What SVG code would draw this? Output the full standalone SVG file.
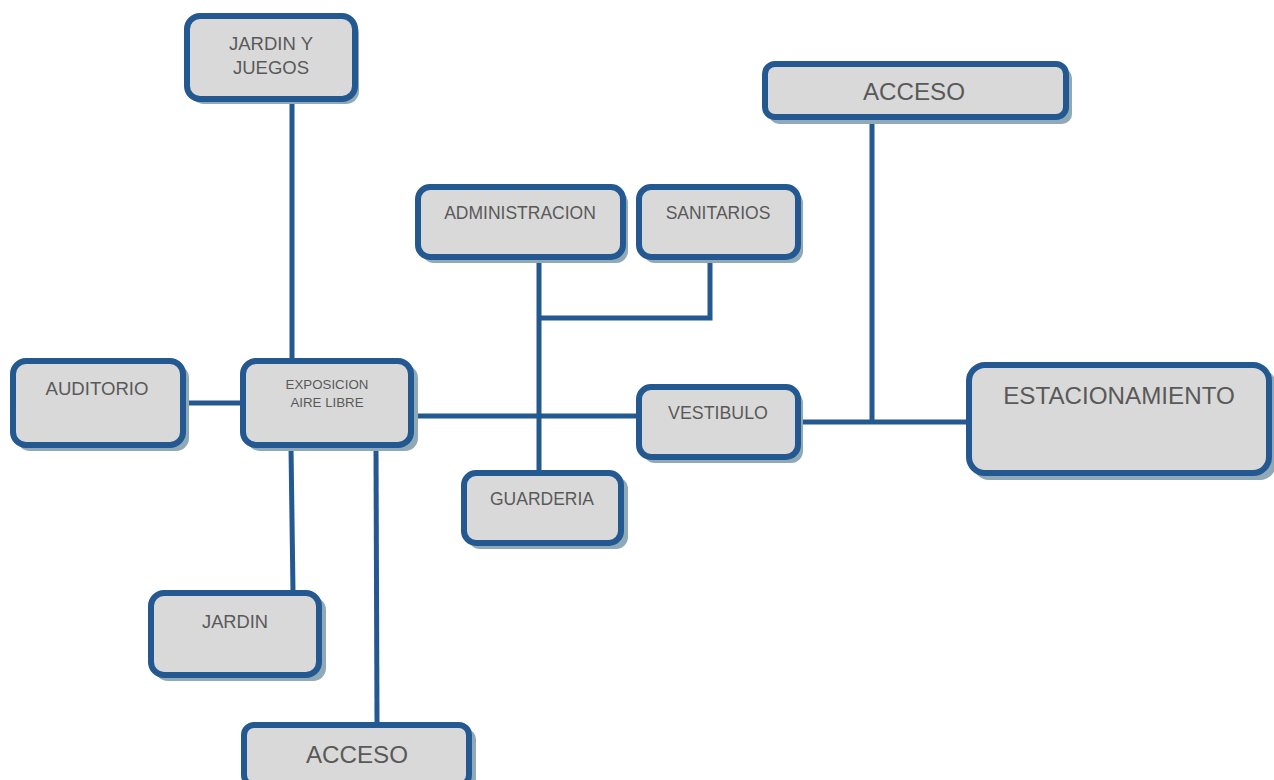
<svg xmlns="http://www.w3.org/2000/svg" width="1274" height="780" viewBox="0 0 1274 780">
<style>
.sh{fill:#8FA9B6;}
.bx{fill:#D9D9D9;stroke:#245890;stroke-width:6;}
.t{font-family:"Liberation Sans",Arial,sans-serif;fill:#595959;text-anchor:middle;}
.c{stroke:#245890;stroke-width:5;fill:none;}
</style>
<rect width="1274" height="780" fill="#ffffff"/>
<g id="connectors">
<line class="c" x1="292" y1="100" x2="292" y2="360"/>
<line class="c" x1="185" y1="403" x2="242" y2="403"/>
<line class="c" x1="413" y1="416" x2="638" y2="416"/>
<line class="c" x1="799" y1="422" x2="968" y2="422"/>
<line class="c" x1="872" y1="119" x2="872" y2="424"/>
<line class="c" x1="539" y1="259" x2="539" y2="472"/>
<polyline class="c" points="710,259 710,318 539,318"/>
<line class="c" x1="291" y1="447" x2="293" y2="592"/>
<line class="c" x1="376" y1="447" x2="377" y2="724"/>
</g>
<g id="jardin-juegos">
<rect class="sh" x="191" y="20" width="168" height="84" rx="13"/>
<rect class="bx" x="187" y="16" width="168" height="83" rx="13"/>
<text class="t" x="271" y="50" font-size="18.5">JARDIN Y</text>
<text class="t" x="271" y="74" font-size="18.5">JUEGOS</text>
</g>
<g id="administracion">
<rect class="sh" x="422" y="191" width="206" height="72" rx="12"/>
<rect class="bx" x="418" y="187" width="205" height="70" rx="12"/>
<text class="t" x="520" y="219" font-size="17.5">ADMINISTRACION</text>
</g>
<g id="sanitarios">
<rect class="sh" x="643" y="191" width="160" height="72" rx="12"/>
<rect class="bx" x="639" y="187" width="159" height="70" rx="12"/>
<text class="t" x="718" y="219" font-size="17.5">SANITARIOS</text>
</g>
<g id="acceso-top">
<rect class="sh" x="769" y="68" width="303" height="56" rx="10"/>
<rect class="bx" x="765" y="64" width="301" height="53" rx="10"/>
<text class="t" x="914" y="100" font-size="24.2">ACCESO</text>
</g>
<g id="auditorio">
<rect class="sh" x="17" y="365" width="172" height="86" rx="13"/>
<rect class="bx" x="13" y="361" width="170" height="84" rx="13"/>
<text class="t" x="97" y="395" font-size="18.6">AUDITORIO</text>
</g>
<g id="exposicion">
<rect class="sh" x="247" y="365" width="171" height="86" rx="13"/>
<rect class="bx" x="243" y="361" width="168" height="84" rx="13"/>
<text class="t" x="327" y="389" font-size="13.3">EXPOSICION</text>
<text class="t" x="327" y="407" font-size="13.3">AIRE LIBRE</text>
</g>
<g id="vestibulo">
<rect class="sh" x="643" y="391" width="160" height="72" rx="12"/>
<rect class="bx" x="639" y="387" width="159" height="70" rx="12"/>
<text class="t" x="718" y="419" font-size="17.8">VESTIBULO</text>
</g>
<g id="estacionamiento">
<rect class="sh" x="973" y="369" width="303" height="111" rx="16"/>
<rect class="bx" x="969" y="365" width="300" height="108" rx="16"/>
<text class="t" x="1119" y="404" font-size="24.2">ESTACIONAMIENTO</text>
</g>
<g id="guarderia">
<rect class="sh" x="468" y="477" width="160" height="72" rx="12"/>
<rect class="bx" x="464" y="473" width="157" height="70" rx="12"/>
<text class="t" x="542" y="505" font-size="17.5">GUARDERIA</text>
</g>
<g id="jardin">
<rect class="sh" x="155" y="597" width="171" height="84" rx="13"/>
<rect class="bx" x="151" y="593" width="168" height="82" rx="13"/>
<text class="t" x="235" y="628" font-size="18.3">JARDIN</text>
</g>
<g id="acceso-bottom">
<rect class="sh" x="248" y="729" width="228" height="60" rx="10"/>
<rect class="bx" x="244" y="725" width="225" height="60" rx="10"/>
<text class="t" x="357" y="763" font-size="24.2">ACCESO</text>
</g>
</svg>
